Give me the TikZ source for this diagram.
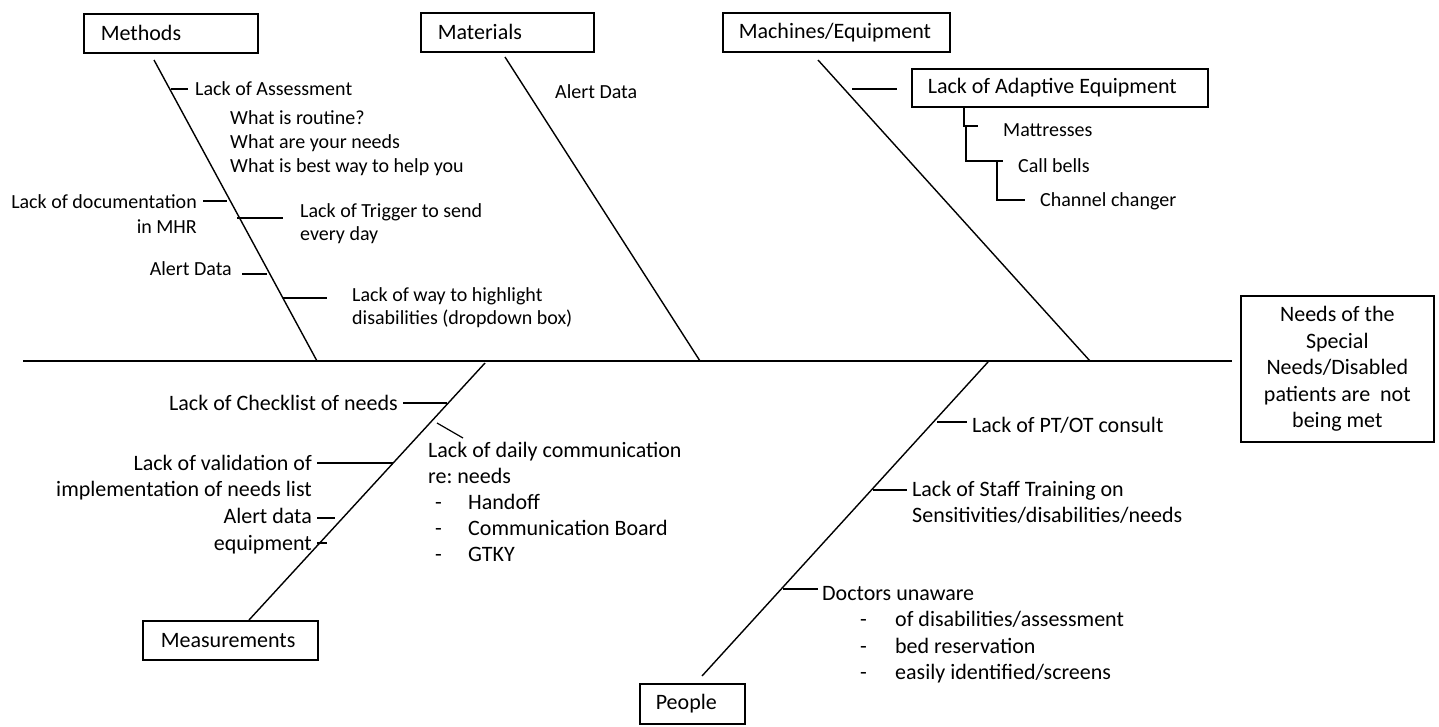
\documentclass[tikz,border=0pt]{standalone}
\usepackage{fontspec}
\setmainfont{Carlito}
\newcommand{\smallfs}{\fontsize{20}{24}\selectfont}
\newcommand{\bigfs}{\fontsize{22}{26.5}\selectfont}
\newcommand{\bul}[1]{\makebox[#1][l]{-}}
\frenchspacing
\begin{document}
\begin{tikzpicture}[x=1pt,y=-1pt,
  bone/.style={line width=1.4pt},
  twig/.style={line width=1.2pt},
  catbox/.style={draw, line width=1.6pt, anchor=north west, inner ysep=0pt,
    minimum height=39pt, align=flush left, font=\bigfs},
  lbl/.style={inner sep=0pt, font=\smallfs, align=left},
  lblb/.style={inner sep=0pt, font=\bigfs, align=left},
]
\useasboundingbox (0,0) rectangle (1439,726);

% category boxes and the effect box
\node[catbox, text width=140pt, inner xsep=17pt] (methods) at (83,13) {Methods};
\node[catbox, text width=139pt, inner xsep=17pt] (materials) at (420,12) {Materials};
\node[catbox, text width=195pt, inner xsep=16pt] (machines) at (722,12) {Machines/Equipment};
\node[catbox, text width=139pt, inner xsep=18pt] (measure) at (142,620) {Measurements};
\node[catbox, text width=73pt, inner xsep=16pt, minimum height=40pt] (people) at (639,683) {People};
\node[catbox, text width=264pt, inner xsep=16pt, minimum height=38pt] (adapt) at (911,68) {Lack of Adaptive Equipment};
\node[draw, line width=1.6pt, anchor=north west, minimum width=193pt, minimum height=146pt,
  align=center, font=\bigfs, inner sep=0pt] (effect) at (1240,295)
  {Needs of the\\Special\\Needs/Disabled\\patients are\ \ not\\being met};

% spine
\coordinate (tail) at (23,361);
\draw[line width=1.6pt, shorten >=8pt] (tail) -- (effect.west |- tail);

% main bones
\coordinate (b1s) at (154,60);  \coordinate (b1e) at (317,361);
\coordinate (b2s) at (505,57);  \coordinate (b2e) at (700,361);
\coordinate (b3s) at (818,60);  \coordinate (b3e) at (1090,361);
\coordinate (b4s) at (485,363); \coordinate (b4e) at (249,620);
\coordinate (b5s) at (988,362); \coordinate (b5e) at (702,676);
\draw[bone] (b1s) -- (b1e);
\draw[bone] (b2s) -- (b2e);
\draw[bone] (b3s) -- (b3e);
\draw[bone] (b4s) -- (b4e);
\draw[bone] (b5s) -- (b5e);

% Methods causes (multi-line labels are placed by the baseline of their last line)
\node[lbl, anchor=base west] (assess) at (195,95.5) {Lack of Assessment};
\node[lbl, anchor=base west] (quest) at (230,172.5) {What is routine?\\What are your needs\\What is best way to help you};
\node[lbl, anchor=base east, align=right, font=\fontsize{20}{25}\selectfont] (docu) at (197,233.5) {Lack of documentation\\in MHR};
\node[lbl, anchor=base west, font=\fontsize{20}{23}\selectfont] (trig) at (300,240) {Lack of Trigger to send\\every day};
\node[lbl, anchor=base east] (alertm) at (232,275.5) {Alert Data};
\node[lbl, anchor=base west, font=\fontsize{20}{23}\selectfont] (way) at (352,324.5) {Lack of way to highlight\\disabilities (dropdown box)};

\coordinate (t1) at (171,89);
\coordinate (t2) at (227,201);
\coordinate (t3) at (237,218);
\coordinate (t4) at (267,274);
\coordinate (t5) at (283,298);
\draw[twig, shorten >=7pt] (t1) -- (t1 -| assess.west);
\draw[twig, shorten <=6pt] (docu.east |- t2) -- (t2);
\draw[twig, shorten >=17pt] (t3) -- (t3 -| trig.west);
\draw[twig, shorten <=10pt] (alertm.east |- t4) -- (t4);
\draw[twig, shorten >=25pt] (t5) -- (t5 -| way.west);

% Materials cause
\node[lbl, anchor=base west] (alertmat) at (555,98.5) {Alert Data};

% Machines/Equipment causes
\coordinate (t6) at (852,89);
\draw[twig, shorten >=14pt] (t6) -- (t6 -| adapt.west);
\node[lbl, anchor=base west] (mattr) at (1003,136.5) {Mattresses};
\node[lbl, anchor=base west] (bells) at (1018,172.5) {Call bells};
\node[lbl, anchor=base west] (chan) at (1040,206.5) {Channel changer};
\coordinate (e1) at (964,126);
\coordinate (e2) at (966,161);
\coordinate (e3) at (997,200);
\draw[twig] (adapt.south -| e1) -- (e1) -- ++(14,0);
\draw[twig, shorten >=15pt] (e1 -| e2) -- (e2) -- (e2 -| bells.west);
\draw[twig, shorten >=15pt] (e2 -| e3) -- (e3) -- (e3 -| chan.west);

% Measurements causes
\node[lblb, anchor=base east] (check) at (398,410) {Lack of Checklist of needs};
\node[lblb, anchor=base west, font=\fontsize{22}{26}\selectfont] (comm) at (428,561)
  {Lack of daily communication\\re: needs\\\hspace*{7pt}\bul{33pt}Handoff\\\hspace*{7pt}\bul{33pt}Communication Board\\\hspace*{7pt}\bul{33pt}GTKY};
\node[lblb, anchor=base east, align=right] (valid) at (312,496.5) {Lack of validation of\\implementation of needs list};
\node[lblb, anchor=base east, align=right, font=\fontsize{22}{27}\selectfont] (alertb) at (312,550) {Alert data\\equipment};

\coordinate (t7) at (447,403);
\coordinate (d1) at (437,423);
\coordinate (d2) at (463,438);
\coordinate (t8) at (393,463);
\coordinate (t9) at (335,518);
\coordinate (t10) at (327,543);
\draw[twig, shorten <=5pt] (check.east |- t7) -- (t7);
\draw[twig] (d1) -- (d2);
\draw[twig, shorten <=5pt] (valid.east |- t8) -- (t8);
\draw[twig, shorten <=5pt] (alertb.east |- t9) -- (t9);
\draw[twig, shorten <=5pt] (alertb.east |- t10) -- (t10);

% People causes
\node[lblb, anchor=base west] (ptot) at (972,432) {Lack of PT/OT consult};
\node[lblb, anchor=base west, font=\fontsize{22}{26}\selectfont] (staff) at (912,522) {Lack of Staff Training on\\Sensitivities/disabilities/needs};
\node[lblb, anchor=base west] (doct) at (822,679.5)
  {Doctors unaware\\\hspace*{38pt}\bul{35pt}of disabilities/assessment\\\hspace*{38pt}\bul{35pt}bed reservation\\\hspace*{38pt}\bul{35pt}easily identified/screens};

\coordinate (t11) at (937,422);
\coordinate (t12) at (873,490);
\coordinate (t13) at (783,589);
\draw[twig, shorten >=5pt] (t11) -- (t11 -| ptot.west);
\draw[twig, shorten >=5pt] (t12) -- (t12 -| staff.west);
\draw[twig, shorten >=4pt] (t13) -- (t13 -| doct.west);
\end{tikzpicture}
\end{document}
